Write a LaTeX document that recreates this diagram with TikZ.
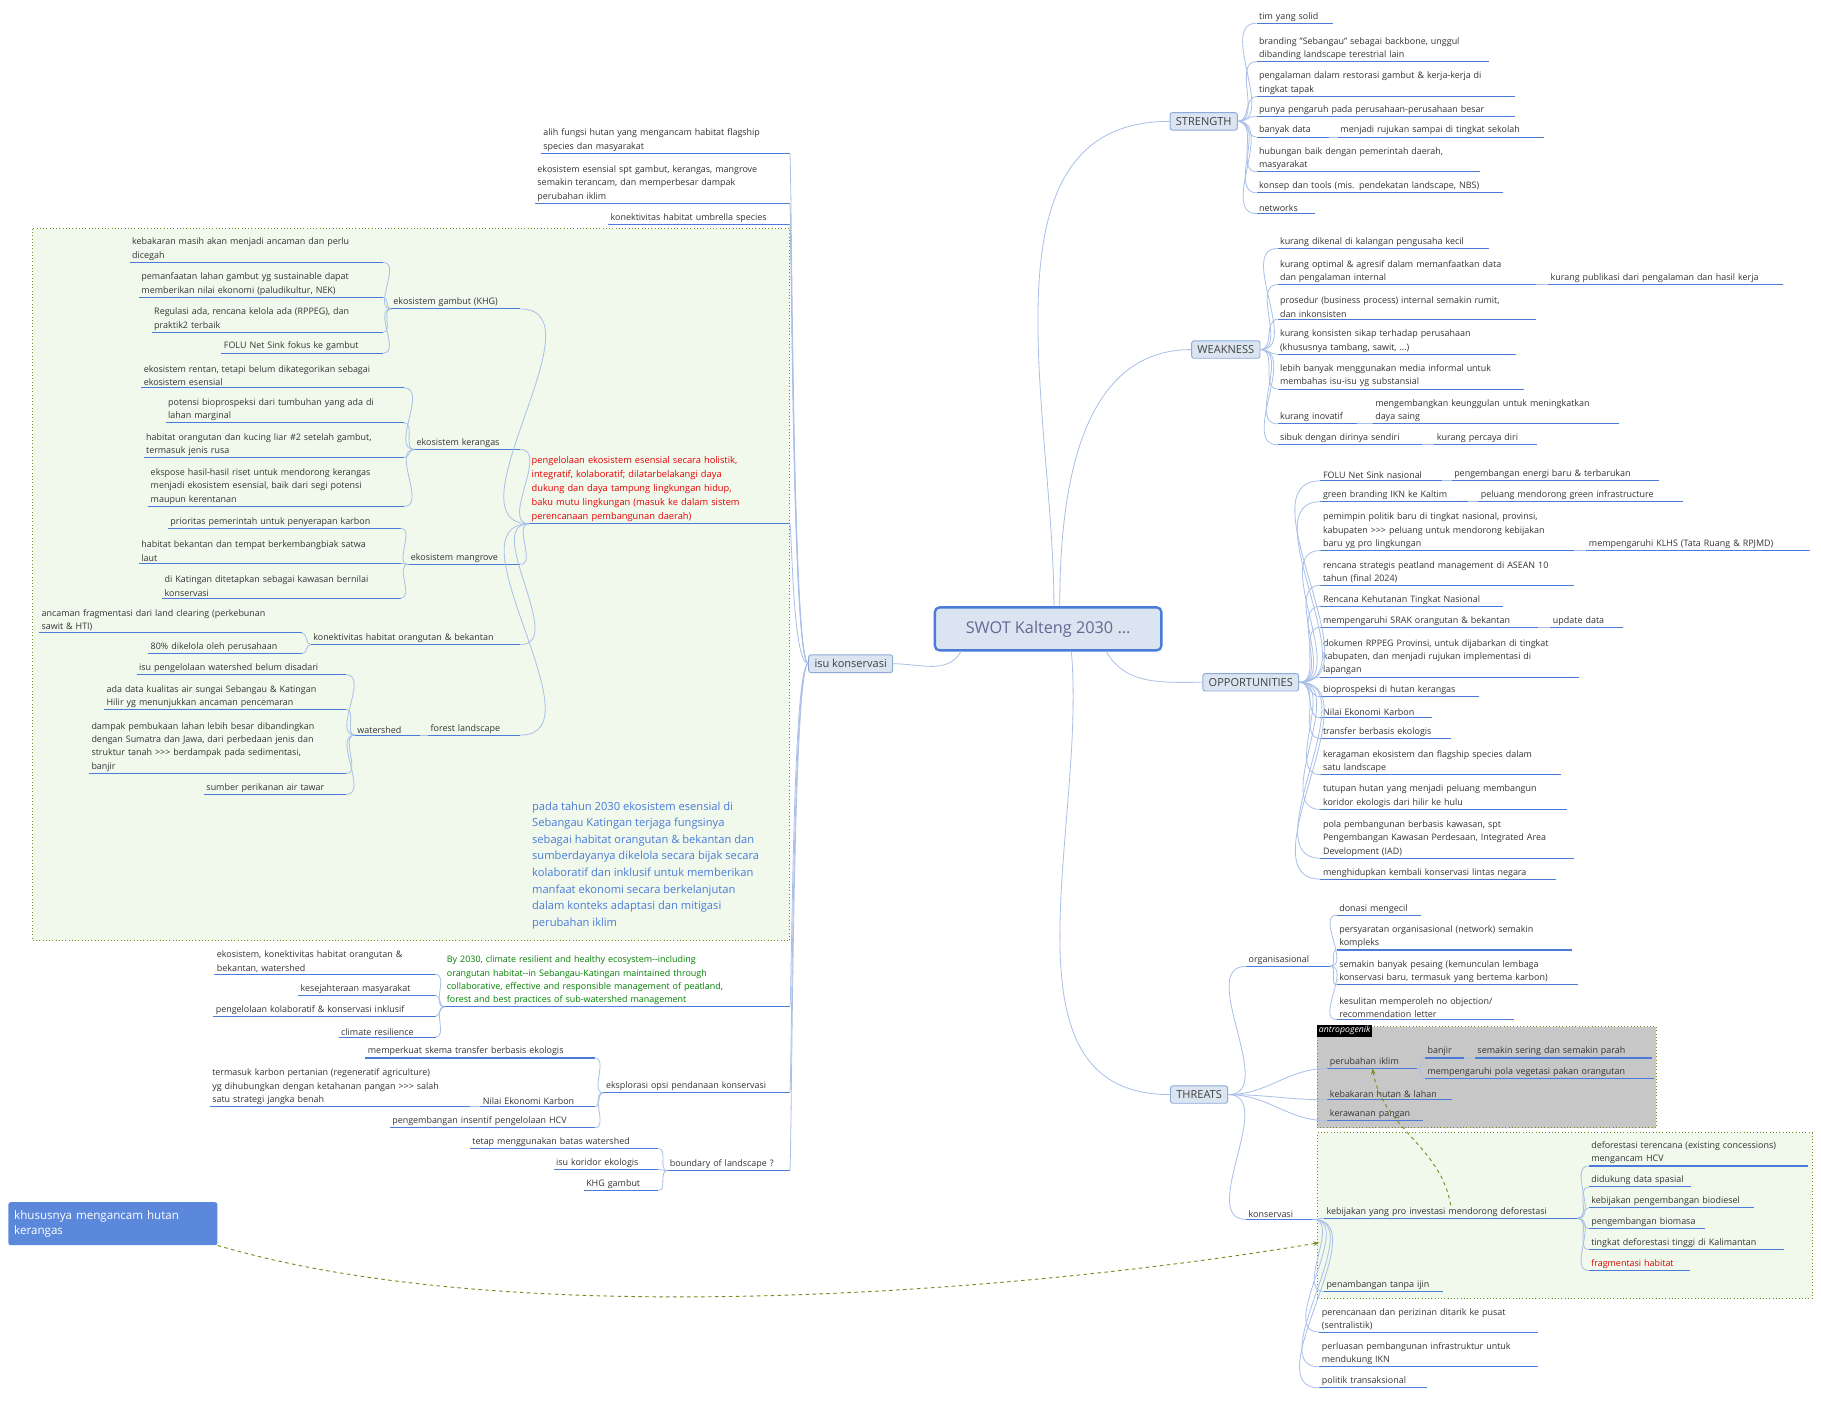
\documentclass[tikz,border=0pt]{standalone}
\usepackage{fontspec}
\setmainfont{Open Sans}
\usetikzlibrary{arrows.meta,calc}
\definecolor{ulc}{HTML}{4A7BD8}
\definecolor{conc}{HTML}{A9C0E8}
\definecolor{txt}{HTML}{333333}
\definecolor{topf}{HTML}{DBE5F1}
\definecolor{topd}{HTML}{8EAADB}
\definecolor{olive}{HTML}{7A8A20}
\tikzset{
 leaf/.style={inner xsep=2pt,inner ysep=1.5pt,font=\fontsize{7.7}{11.5}\selectfont,text=txt,align=left},
 ul/.style={draw=ulc,line width=0.9pt},
 con/.style={draw=conc,line width=0.7pt},
 topic/.style={draw=topd,fill=topf,rounded corners=2pt,font=\fontsize{9.5}{11}\selectfont,text=black!75,inner xsep=5pt,inner ysep=4pt,line width=0.8pt},
 dsh/.style={draw=olive,dashed,line width=0.8pt,-{Stealth[length=5pt]}},
}
\newcommand\R[5]{\node[leaf,text width=#4pt-4pt,anchor=south west] (#1) at (#2,#3) {#5};\draw[ul] (#1.south west)--(#1.south east);}
\newcommand\Lf[5]{\node[leaf,text width=#4pt-4pt,anchor=south east] (#1) at (#2,#3) {#5};\draw[ul] (#1.south west)--(#1.south east);}
\newcommand\conR[2]{\draw[con] (#1) to[out=0,in=180] (#2.south west);}
\newcommand\conL[2]{\draw[con] (#1) to[out=180,in=0] (#2.south east);}
\newcommand\conI[1]{\draw[con] (isu.west) .. controls (682,571.5) and ($(#1.south east)+(2,0)$) .. (#1.south east);}
\newcommand\gt{>{}>{}>}
\begin{document}
\begin{tikzpicture}[x=1pt,y=-1pt]
\fill[white] (0,0) rectangle (1568,1206);
\useasboundingbox (0,0) rectangle (1568,1206);
% boxes
\fill[fill=green!40!olive!8,draw=olive,dotted,line width=0.8pt] (28,197) rectangle (680,810);
\fill[fill=black!22,draw=olive,dotted,line width=0.8pt] (1134,884) rectangle (1426,971);
\node[fill=black,text=white,font=\itshape\fontsize{7.5}{8}\selectfont,inner sep=1.5pt,anchor=north west] (ant) at (1134,882) {antropogenik};
\node[fill=green!40!olive!8,draw=olive,dotted,line width=0.8pt,minimum width=426pt,minimum height=143pt,anchor=north west,inner sep=0pt] (gb) at (1134,975) {};
\coordinate (gbin) at (1136,1070);
% center and topics
\node[draw=ulc,fill=topf,line width=2pt,rounded corners=4pt,minimum width=195pt,minimum height=37pt,font=\fontsize{14}{16}\selectfont,text=black!70!blue!60] (ctr) at (902.5,541.5) {SWOT Kalteng 2030 ...};
\node[topic] (str) at (1036.5,104.5) {STRENGTH};
\node[topic] (wea) at (1055.5,301) {WEAKNESS};
\node[topic] (opp) at (1077,587.5) {OPPORTUNITIES};
\node[topic] (thr) at (1032.5,942.5) {THREATS};
\node[topic] (isu) at (732.5,571.5) {isu konservasi};
\draw[con] ([xshift=5pt]ctr.north) to[out=90,in=180] (str.west);
\draw[con] ([xshift=10pt]ctr.north) to[out=90,in=180] (wea.west);
\draw[con] ([xshift=50pt]ctr.south) to[out=-60,in=180] (opp.west);
\draw[con] ([xshift=20pt]ctr.south) to[out=-85,in=180] (thr.west);
\draw[con] ([xshift=-75pt]ctr.south) to[out=-120,in=0] (isu.east);
\node[fill=ulc!90,text=white,rounded corners=2pt,font=\fontsize{10}{13}\selectfont,align=left,minimum width=180pt,minimum height=37pt,anchor=north west,text width=170pt] (khu) at (7,1035) {khususnya mengancam hutan\\kerangas};
% STRENGTH
\R{s1}{1082}{20}{65}{tim yang solid}
\R{s2}{1082}{53}{200}{branding "Sebangau" sebagai backbone, unggul\\dibanding landscape terestrial lain}
\R{s3}{1082}{83}{222}{pengalaman dalam restorasi gambut \& kerja-kerja di\\tingkat tapak}
\R{s4}{1082}{100}{222}{punya pengaruh pada perusahaan-perusahaan besar}
\R{s5}{1082}{118}{62}{banyak data}
\R{s5a}{1152}{118}{177}{menjadi rujukan sampai di tingkat sekolah}
\R{s6}{1082}{148}{192}{hubungan baik dengan pemerintah daerah,\\masyarakat}
\R{s7}{1082}{166}{212}{konsep dan tools (mis. pendekatan landscape, NBS)}
\R{s8}{1082}{184}{50}{networks}
\foreach \n in {s1,s2,s3,s4,s5,s6,s7,s8}{\conR{str.east}{\n}}
\conR{s5.south east}{s5a}
% WEAKNESS
\R{w1}{1100}{214}{182}{kurang dikenal di kalangan pengusaha kecil}
\R{w2}{1100}{245}{222}{kurang optimal \& agresif dalam memanfaatkan data\\dan pengalaman internal}
\R{w2a}{1333}{245}{202}{kurang publikasi dari pengalaman dan hasil kerja}
\R{w3}{1100}{275}{222}{prosedur (business process) internal semakin rumit,\\dan inkonsisten}
\R{w4}{1100}{305}{205}{kurang konsisten sikap terhadap perusahaan\\(khususnya tambang, sawit, ...)}
\R{w5}{1100}{335}{212}{lebih banyak menggunakan media informal untuk\\membahas isu-isu yg substansial}
\R{w6}{1100}{365}{68}{kurang inovatif}
\R{w6a}{1182}{365}{212}{mengembangkan keunggulan untuk meningkatkan\\daya saing}
\R{w7}{1100}{383}{124}{sibuk dengan dirinya sendiri}
\R{w7a}{1235}{383}{88}{kurang percaya diri}
\foreach \n in {w1,w2,w3,w4,w5,w6,w7}{\conR{wea.east}{\n}}
\conR{w2.south east}{w2a}\conR{w6.south east}{w6a}\conR{w7.south east}{w7a}
% OPPORTUNITIES
\R{o1}{1137}{414}{104}{FOLU Net Sink nasional}
\R{o1a}{1250}{414}{178}{pengembangan energi baru \& terbarukan}
\R{o2}{1137}{432}{127}{green branding IKN ke Kaltim}
\R{o2a}{1273}{432}{176}{peluang mendorong green infrastructure}
\R{o3}{1137}{474}{218}{pemimpin politik baru di tingkat nasional, provinsi,\\kabupaten \gt{} peluang untuk mendorong kebijakan\\baru yg pro lingkungan}
\R{o3a}{1366}{474}{192}{mempengaruhi KLHS (Tata Ruang \& RPJMD)}
\R{o4}{1137}{504}{218}{rencana strategis peatland management di ASEAN 10\\tahun (final 2024)}
\R{o5}{1137}{522}{157}{Rencana Kehutanan Tingkat Nasional}
\R{o6}{1137}{540}{187}{mempengaruhi SRAK orangutan \& bekantan}
\R{o6a}{1335}{540}{62}{update data}
\R{o7}{1137}{583}{222}{dokumen RPPEG Provinsi, untuk dijabarkan di tingkat\\kabupaten, dan menjadi rujukan implementasi di\\lapangan}
\R{o8}{1137}{600}{136}{bioprospeksi di hutan kerangas}
\R{o9}{1137}{618}{96}{Nilai Ekonomi Karbon}
\R{o10}{1137}{636}{112}{transfer berbasis ekologis}
\R{o11}{1137}{667}{207}{keragaman ekosistem dan flagship species dalam\\satu landscape}
\R{o12}{1137}{697}{212}{tutupan hutan yang menjadi peluang membangun\\koridor ekologis dari hilir ke hulu}
\R{o13}{1137}{739}{218}{pola pembangunan berbasis kawasan, spt\\Pengembangan Kawasan Perdesaan, Integrated Area\\Development (IAD)}
\R{o14}{1137}{757}{202}{menghidupkan kembali konservasi lintas negara}
\foreach \n in {o1,o2,o3,o4,o5,o6,o7,o8,o9,o10,o11,o12,o13,o14}{\conR{opp.east}{\n}}
\conR{o1.south east}{o1a}\conR{o2.south east}{o2a}\conR{o3.south east}{o3a}\conR{o6.south east}{o6a}
% THREATS
\R{org}{1073}{832}{72}{organisasional}
\R{t1}{1151}{788}{72}{donasi mengecil}
\R{t2}{1151}{818}{202}{persyaratan organisasional (network) semakin\\kompleks}
\R{t3}{1151}{848}{207}{semakin banyak pesaing (kemunculan lembaga\\konservasi baru, termasuk yang bertema karbon)}
\R{t4}{1151}{878}{152}{kesulitan memperoleh no objection/\\recommendation letter}
\foreach \n in {t1,t2,t3,t4}{\conR{org.south east}{\n}}
\R{pi}{1143}{920}{77}{perubahan iklim}
\R{bj}{1227}{911}{33}{banjir}
\R{bja}{1270}{911}{152}{semakin sering dan semakin parah}
\R{pia}{1227}{929}{197}{mempengaruhi pola vegetasi pakan orangutan}
\R{kb}{1143}{947}{107}{kebakaran hutan \& lahan}
\R{kr}{1143}{965}{82}{kerawanan pangan}
\conR{pi.south east}{bj}\conR{pi.south east}{pia}\conR{bj.south east}{bja}
\R{kon}{1073}{1050}{57}{konservasi}
\R{keb}{1140}{1049}{218}{kebijakan yang pro investasi mendorong deforestasi}
\R{k1}{1368}{1004}{188}{deforestasi terencana (existing concessions)\\mengancam HCV}
\R{k2}{1368}{1022}{88}{didukung data spasial}
\R{k3}{1368}{1040}{142}{kebijakan pengembangan biodiesel}
\R{k4}{1368}{1058}{100}{pengembangan biomasa}
\R{k5}{1368}{1076}{168}{tingkat deforestasi tinggi di Kalimantan}
\node[leaf,text width=83pt,anchor=south west,text=red!85!black] (k6) at (1368,1094) {fragmentasi habitat};\draw[ul] (k6.south west)--(k6.south east);
\foreach \n in {k1,k2,k3,k4,k5,k6}{\conR{keb.south east}{\n}}
\R{pen}{1140}{1112}{102}{penambangan tanpa ijin}
\R{pr1}{1136}{1147}{188}{perencanaan dan perizinan ditarik ke pusat\\(sentralistik)}
\R{pr2}{1136}{1177}{188}{perluasan pembangunan infrastruktur untuk\\mendukung IKN}
\R{pr3}{1136}{1195}{92}{politik transaksional}
\foreach \n in {org,kon,pi,kb,kr}{\conR{thr.east}{\n}}
\foreach \n in {keb,pen,pr1,pr2,pr3}{\conR{kon.south east}{\n}}
\draw[dsh] (keb.north) to[out=100,in=-80] (pi.south);
\draw[dsh] (khu.south east) .. controls (450,1150) and (900,1110) .. (gbin);
% isu konservasi
\Lf{i1}{680}{132}{214}{alih fungsi hutan yang mengancam habitat flagship\\species dan masyarakat}
\Lf{i2}{680}{175}{219}{ekosistem esensial spt gambut, kerangas, mangrove\\semakin terancam, dan memperbesar dampak\\perubahan iklim}
\Lf{i3}{680}{193}{156}{konektivitas habitat umbrella species}
\node[leaf,text width=220pt,anchor=south east,text=red!90!black,font=\fontsize{8}{12}\selectfont] (red) at (680,451) {pengelolaan ekosistem esensial secara holistik,\\integratif, kolaboratif; dilatarbelakangi daya\\dukung dan daya tampung lingkungan hidup,\\baku mutu lingkungan (masuk ke dalam sistem\\perencanaan pembangunan daerah)};
\draw[ul] (red.south west)--(red.south east);
\Lf{gam}{448}{266}{111}{ekosistem gambut (KHG)}
\Lf{g1}{330}{226}{218}{kebakaran masih akan menjadi ancaman dan perlu\\dicegah}
\Lf{g2}{330}{256}{210}{pemanfaatan lahan gambut yg sustainable dapat\\memberikan nilai ekonomi (paludikultur, NEK)}
\Lf{g3}{330}{286}{199}{Regulasi ada, rencana kelola ada (RPPEG), dan\\praktik2 terbaik}
\Lf{g4}{330}{304}{139}{FOLU Net Sink fokus ke gambut}
\Lf{ker}{448}{387}{91}{ekosistem kerangas}
\Lf{kk1}{348}{334}{226}{ekosistem rentan, tetapi belum dikategorikan sebagai\\ekosistem esensial}
\Lf{kk2}{348}{364}{205}{potensi bioprospeksi dari tumbuhan yang ada di\\lahan marginal}
\Lf{kk3}{348}{394}{224}{habitat orangutan dan kucing liar \#2 setelah gambut,\\termasuk jenis rusa}
\Lf{kk4}{348}{436}{220}{ekspose hasil-hasil riset untuk mendorong kerangas\\menjadi ekosistem esensial, baik dari segi potensi\\maupun kerentanan}
\Lf{man}{448}{486}{96}{ekosistem mangrove}
\Lf{m1}{345}{455}{200}{prioritas pemerintah untuk penyerapan karbon}
\Lf{m2}{345}{485}{225}{habitat bekantan dan tempat berkembangbiak satwa\\laut}
\Lf{m3}{345}{515}{205}{di Katingan ditetapkan sebagai kawasan bernilai\\konservasi}
\Lf{kon2}{448}{555}{180}{konektivitas habitat orangutan \& bekantan}
\Lf{c1}{260}{545}{226}{ancaman fragmentasi dari land clearing (perkebunan\\sawit \& HTI)}
\Lf{c2}{260}{563}{132}{80\% dikelola oleh perusahaan}
\Lf{fl}{448}{633}{79}{forest landscape}
\Lf{ws}{362}{633}{56}{watershed}
\Lf{ws1}{298}{581}{180}{isu pengelolaan watershed belum disadari}
\Lf{ws2}{298}{611}{208}{ada data kualitas air sungai Sebangau \& Katingan\\Hilir yg menunjukkan ancaman pencemaran}
\Lf{ws3}{298}{666}{221}{dampak pembukaan lahan lebih besar dibandingkan\\dengan Sumatra dan Jawa, dari perbedaan jenis dan\\struktur tanah \gt{} berdampak pada sedimentasi,\\banjir}
\Lf{ws4}{298}{684}{122}{sumber perikanan air tawar}
\foreach \n in {gam,ker,man,kon2,fl}{\conL{red.south west}{\n}}
\foreach \n in {g1,g2,g3,g4}{\conL{gam.south west}{\n}}
\foreach \n in {kk1,kk2,kk3,kk4}{\conL{ker.south west}{\n}}
\foreach \n in {m1,m2,m3}{\conL{man.south west}{\n}}
\foreach \n in {c1,c2}{\conL{kon2.south west}{\n}}
\conL{fl.south west}{ws}
\foreach \n in {ws1,ws2,ws3,ws4}{\conL{ws.south west}{\n}}
\node[anchor=north west,text=ulc,font=\fontsize{9.6}{14.3}\selectfont,align=left,inner sep=0pt] (vis) at (458,690) {pada tahun 2030 ekosistem esensial di\\Sebangau Katingan terjaga fungsinya\\sebagai habitat orangutan \& bekantan dan\\sumberdayanya dikelola secara bijak secara\\kolaboratif dan inklusif untuk memberikan\\manfaat ekonomi secara berkelanjutan\\dalam konteks adaptasi dan mitigasi\\perubahan iklim};
\node[leaf,text width=293pt,anchor=south east,text=green!50!black] (grn) at (680,867) {By 2030, climate resilient and healthy ecosystem-{}-including\\orangutan habitat-{}-in Sebangau-Katingan maintained through\\collaborative, effective and responsible management of peatland,\\forest and best practices of sub-watershed management};
\draw[ul] (grn.south west)--(grn.south east);
\Lf{e1}{375}{839}{190}{ekosistem, konektivitas habitat orangutan \&\\bekantan, watershed}
\Lf{e2}{375}{857}{118}{kesejahteraan masyarakat}
\Lf{e3}{375}{875}{191}{pengelolaan kolaboratif \& konservasi inklusif}
\Lf{e4}{375}{893}{83}{climate resilience}
\foreach \n in {e1,e2,e3,e4}{\conL{grn.south west}{\n}}
\Lf{eks}{680}{941}{160}{eksplorasi opsi pendanaan konservasi}
\Lf{f1}{512}{911}{197}{memperkuat skema transfer berbasis ekologis}
\Lf{f2}{512}{953}{98}{Nilai Ekonomi Karbon}
\Lf{f2a}{405}{953}{224}{termasuk karbon pertanian (regeneratif agriculture)\\yg dihubungkan dengan ketahanan pangan \gt{} salah\\satu strategi jangka benah}
\Lf{f3}{512}{971}{176}{pengembangan insentif pengelolaan HCV}
\foreach \n in {f1,f2,f3}{\conL{eks.south west}{\n}}
\conL{f2.south west}{f2a}
\Lf{bou}{680}{1008}{105}{boundary of landscape ?}
\Lf{b1}{567}{989}{162}{tetap menggunakan batas watershed}
\Lf{b2}{567}{1007}{90}{isu koridor ekologis}
\Lf{b3}{567}{1025}{64}{KHG gambut}
\foreach \n in {b1,b2,b3}{\conL{bou.south west}{\n}}
\foreach \n in {i1,i2,i3,red,grn,eks,bou}{\conI{\n}}
\end{tikzpicture}
\end{document}
